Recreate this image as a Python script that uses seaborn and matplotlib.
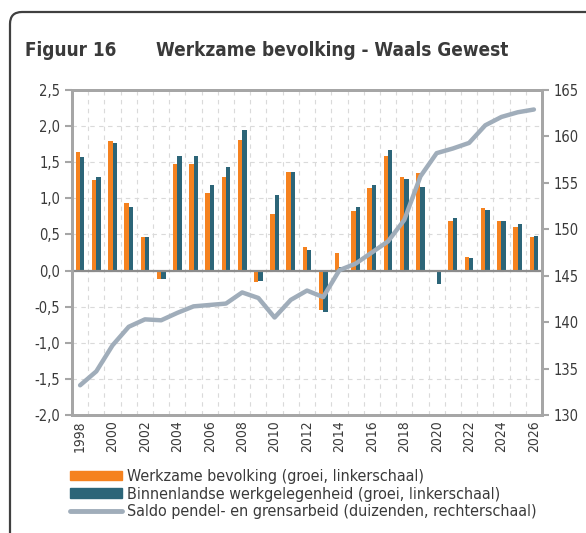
import numpy as np
import pandas as pd
import matplotlib
matplotlib.use("Agg")
import matplotlib.pyplot as plt
import seaborn as sns
from matplotlib.patches import FancyBboxPatch
from matplotlib.lines import Line2D
from matplotlib.ticker import FuncFormatter

# ── Data ─────────────────────────────────────────────────────────────────────
YEARS = list(range(1998, 2027))
WERKZAME = [1.64, 1.26, 1.80, 0.93, 0.47, -0.11, 1.47, 1.47, 1.07, 1.30,
            1.81, -0.16, 0.78, 1.37, 0.33, -0.55, 0.25, 0.83, 1.15, 1.59,
            1.30, 1.35, 0.01, 0.69, 0.19, 0.87, 0.68, 0.60, 0.46]
BINNEN = [1.57, 1.29, 1.76, 0.88, 0.46, -0.12, 1.59, 1.59, 1.18, 1.44,
          1.94, -0.14, 1.05, 1.37, 0.29, -0.57, 0.05, 0.88, 1.19, 1.67,
          1.27, 1.16, -0.18, 0.73, 0.17, 0.84, 0.69, 0.64, 0.48]
SALDO = [133.2, 134.7, 137.5, 139.5, 140.3, 140.2, 141.0, 141.7, 141.85,
         142.0, 143.2, 142.6, 140.5, 142.4, 143.4, 142.7, 145.6, 146.3,
         147.5, 148.7, 151.0, 155.7, 158.2, 158.7, 159.3, 161.2, 162.1,
         162.6, 162.9]

LABELS = ["Werkzame bevolking (groei, linkerschaal)",
          "Binnenlandse werkgelegenheid (groei, linkerschaal)",
          "Saldo pendel- en grensarbeid (duizenden, rechterschaal)"]

ORANGE = "#F5821F"
TEAL = "#2C6578"
GREY_LINE = "#A0ADBA"
SPINE = "#A6A6A6"
TEXT = "#3A3A3A"

sns.set_style("white")
plt.rcParams["font.family"] = ["DejaVu Sans"]
plt.rcParams["font.stretch"] = "condensed"
plt.rcParams["text.color"] = TEXT
plt.rcParams["xtick.color"] = TEXT
plt.rcParams["ytick.color"] = TEXT

df = pd.DataFrame({
    "jaar": [str(y) for y in YEARS] * 2,
    "reeks": [LABELS[0]] * len(YEARS) + [LABELS[1]] * len(YEARS),
    "waarde": WERKZAME + BINNEN,
})

fig = plt.figure(figsize=(5.86, 5.33), dpi=100)
ax = fig.add_axes([72 / 586, 1 - 415 / 533, 470 / 586, 325 / 533])

sns.barplot(data=df, x="jaar", y="waarde", hue="reeks",
            palette=[ORANGE, TEAL], width=0.54, gap=0, saturation=1,
            linewidth=0, ax=ax, zorder=2)
ax.get_legend().remove()
ax.axhline(0, color="#8C8C8C", lw=1.6, zorder=3)

ax.set_xlim(-0.5, len(YEARS) - 0.5)
ax.set_ylim(-2, 2.5)
ax.set_yticks(np.arange(-2, 2.51, 0.5))
ax.yaxis.set_major_formatter(
    FuncFormatter(lambda v, _: f"{v:.1f}".replace(".", ",")))
ax.set_xticks(range(0, len(YEARS), 2))
ax.set_xticklabels([str(y) for y in YEARS[::2]], rotation=90)
ax.set_xticks(np.arange(0.5, len(YEARS) - 1, 1), minor=True)
ax.set_xlabel("")
ax.set_ylabel("")
ax.set_axisbelow(True)
ax.grid(which="minor", axis="x", color="#DADADA", lw=0.8, ls=(0, (4, 4)))
ax.grid(which="major", axis="y", color="#DADADA", lw=0.8, ls=(0, (4, 4)))
ax.tick_params(axis="x", which="both", length=0, labelsize=10, pad=4)
ax.tick_params(axis="y", length=5, width=1.5, color=SPINE, labelsize=10.5)

# ── Saldo pendel- en grensarbeid op de rechterschaal ─────────────────────────
ax2 = ax.twinx()
sns.lineplot(x=np.arange(len(YEARS)), y=SALDO, ax=ax2, color=GREY_LINE,
             lw=3.2)
ax2.set_ylim(130, 165)
ax2.set_yticks(range(130, 166, 5))
ax2.set_ylabel("")
ax2.grid(False)
ax2.tick_params(axis="y", length=5, width=1.5, color=SPINE, labelsize=10.5)

for a in (ax, ax2):
    for sp in a.spines.values():
        sp.set_visible(True)
        sp.set_color(SPINE)
        sp.set_linewidth(2)

# ── Title, frame, legend ─────────────────────────────────────────────────────
fig.text(25 / 586, 1 - 50 / 533, "Figuur 16", fontsize=13.6,
         fontweight="bold", va="center")
fig.text(156 / 586, 1 - 50 / 533, "Werkzame bevolking - Waals Gewest",
         fontsize=13.6, fontweight="bold", va="center")

frame = FancyBboxPatch((0.10, -0.5), 6.5, 5.21 + 0.5,
                       boxstyle="round,pad=0,rounding_size=0.12",
                       transform=fig.dpi_scale_trans, fill=False,
                       ec="#404040", lw=1.6)
fig.add_artist(frame)

handles = [
    plt.Rectangle((0, 0), 1, 1, color=ORANGE),
    plt.Rectangle((0, 0), 1, 1, color=TEAL),
    Line2D([], [], color=GREY_LINE, lw=3.5),
]
fig.legend(handles, LABELS, loc="upper left",
           bbox_to_anchor=(70 / 586, 1 - 469 / 533), frameon=False,
           fontsize=11.5, handlelength=3.25, handleheight=0.55,
           handletextpad=0.3, labelspacing=0.17, borderpad=0,
           borderaxespad=0)

fig.savefig("out.png", dpi=100)
